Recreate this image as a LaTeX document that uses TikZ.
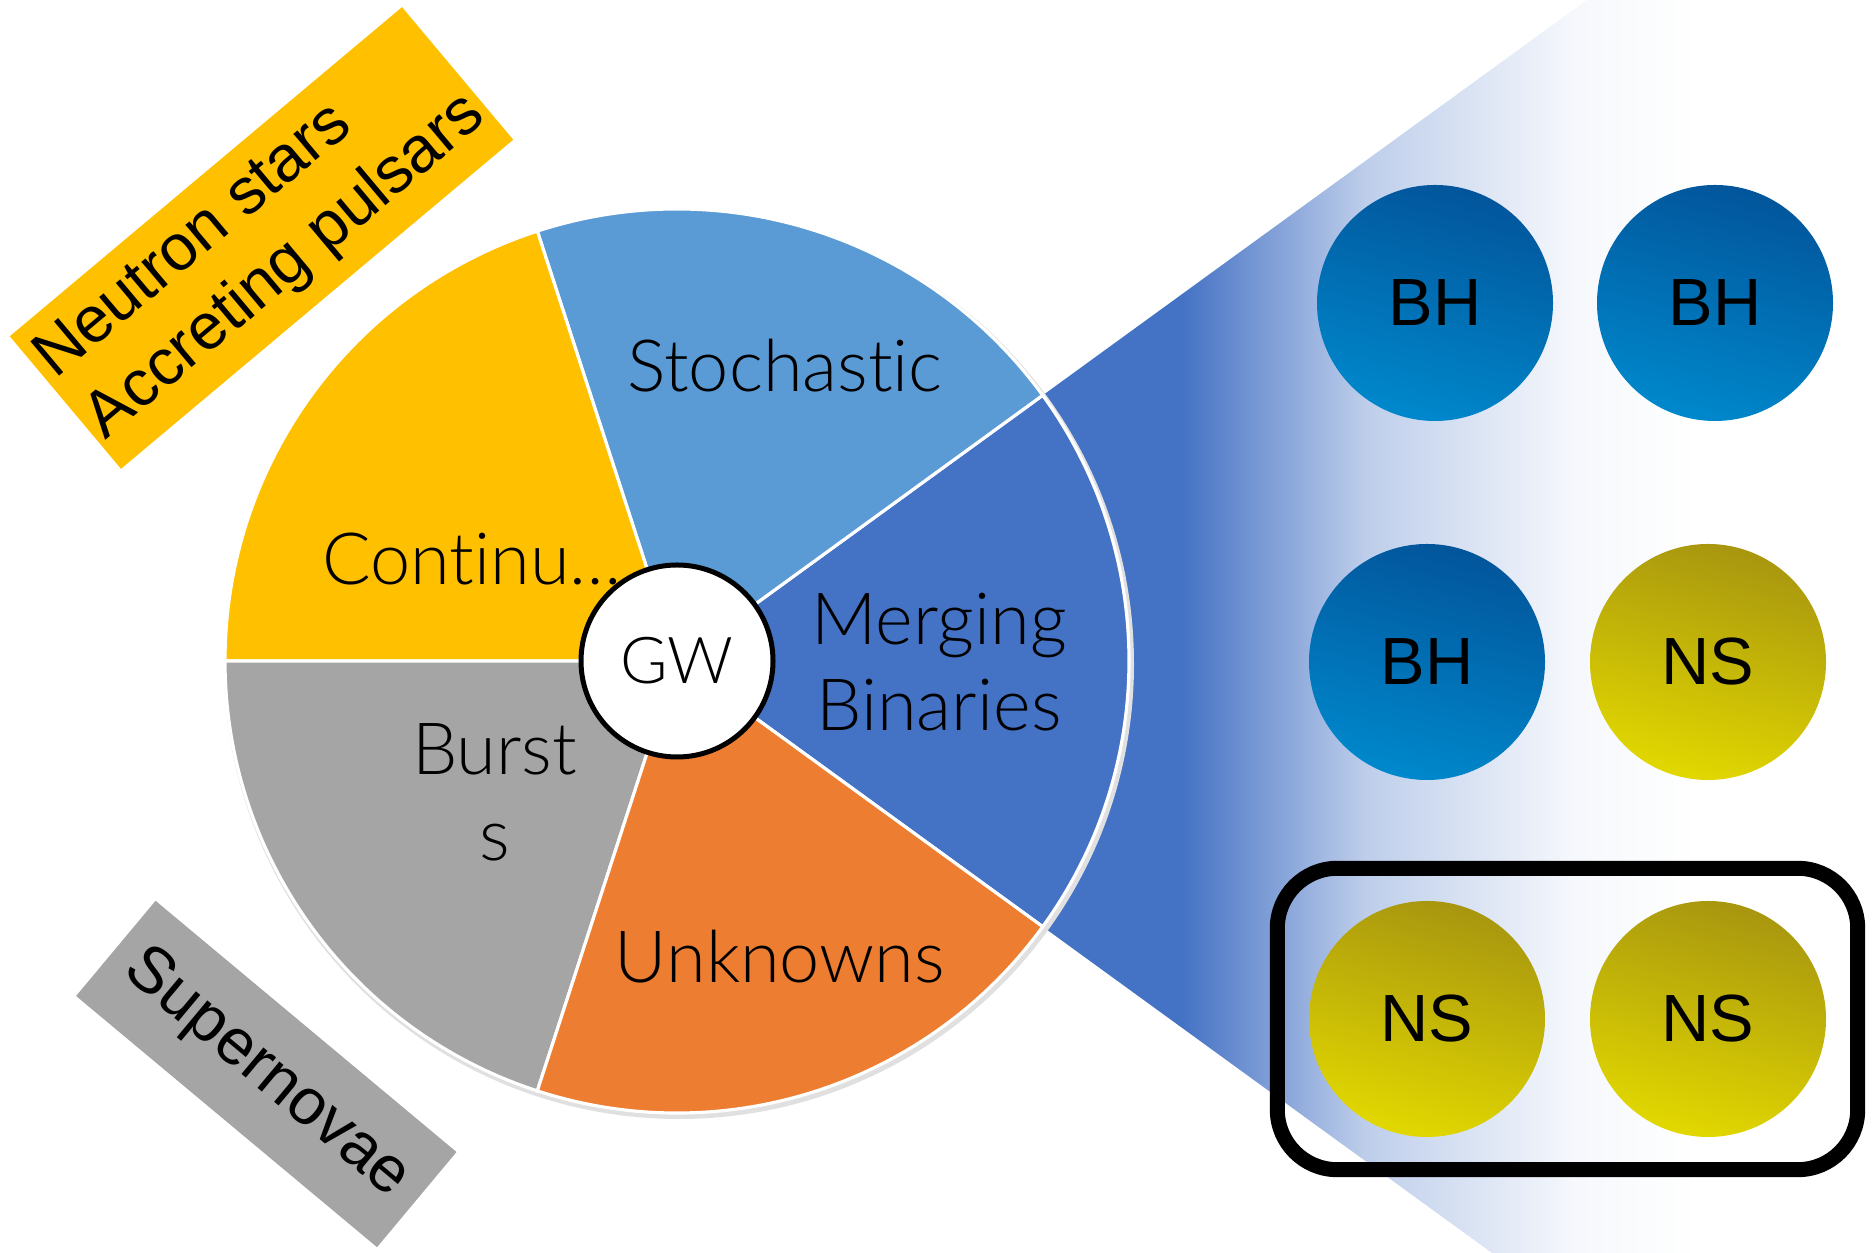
\documentclass[tikz,border=0pt]{standalone}
\usepackage{fontspec}
\setmainfont{Liberation Sans}
\newfontfamily\pielight{Lato Light}[Ligatures=NoCommon]
\usetikzlibrary{fit}
\definecolor{mergeblue}{HTML}{4472C4}
\definecolor{stochblue}{HTML}{5B9BD5}
\definecolor{contgold}{HTML}{FFC000}
\definecolor{burstgray}{HTML}{A5A5A5}
\definecolor{unkorange}{HTML}{ED7D31}
\definecolor{bhtop}{HTML}{02559B}
\definecolor{bhbot}{HTML}{0088CC}
\definecolor{nstop}{HTML}{A8960F}
\definecolor{nsbot}{HTML}{E2D800}
\begin{document}
\begin{tikzpicture}[
  wedgeline/.style={draw=white, line width=0.9pt},
  pielabel/.style={font=\pielight\fontsize{20.5}{24.4}\selectfont, inner sep=0pt},
  banner/.style={inner sep=0pt, font=\fontsize{18.5}{22.5}\selectfont},
  ball/.style={circle, minimum size=2.36cm, inner sep=0pt, font=\fontsize{19}{22}\selectfont},
  bhball/.style={ball, top color=bhtop, bottom color=bhbot, shading angle=-15},
  nsball/.style={ball, top color=nstop, bottom color=nsbot, shading angle=-15}]
\useasboundingbox (0,0) rectangle (18.73,12.53);
\coordinate (pie) at (6.77,5.92);

\begin{scope}
\clip (pie) -- (15.87,12.53) -- (18.73,12.53) -- (18.73,0) -- (14.92,0) -- cycle;
\fill[mergeblue] (6.77,0) rectangle (11.81,12.53);
\shade[left color=mergeblue, right color=mergeblue!35] (11.81,0) rectangle (13.65,12.53);
\shade[left color=mergeblue!35, right color=mergeblue!5] (13.65,0) rectangle (15.75,12.53);
\shade[left color=mergeblue!5, right color=white] (15.75,0) rectangle (17.0,12.53);
\end{scope}

\fill[black!12] (6.79,5.89) circle (4.55);
\foreach \a/\col in {-36/mergeblue, 36/stochblue, 108/contgold, 180/burstgray, 252/unkorange}
  \filldraw[fill=\col, wedgeline] (pie) -- ++(\a:4.52) arc[start angle=\a, delta angle=72, radius=4.52] -- cycle;

\node[pielabel, anchor=base] (stoch) at (7.85,8.61) {Stochastic};
\node[pielabel, anchor=base] (cont) at (4.72,6.68) {Continu…};
\node[pielabel, anchor=base] (unk) at (7.80,2.70) {Unknowns};
\node[pielabel, align=center] (merge) at (9.39,5.91) {Merging\\Binaries};
\node[pielabel, align=center] (burst) at (4.945,4.61) {Burst\\s};
\node[circle, draw, fill=white, line width=0.5mm, minimum size=1.92cm, inner sep=0pt,
  font=\pielight\fontsize{18.4}{22}\selectfont] (gw) at (pie) {GW};

\node[banner, fill=contgold, rotate=40, minimum width=5.12cm, minimum height=1.73cm,
  align=left] (nsbanner) at (2.615,10.15) {Neutron stars\\Accreting pulsars};
\node[banner, fill=burstgray, rotate=-39.85, minimum width=3.92cm, minimum height=1.24cm]
  (snbanner) at (2.663,1.79) {Supernovae};

\node[bhball] (bh1) at (14.35,9.50) {BH};
\node[bhball] (bh2) at (17.15,9.50) {BH};
\node[bhball] (bh3) at (14.27,5.91) {BH};
\node[nsball] (ns1) at (17.08,5.91) {NS};
\node[nsball] (ns2) at (14.27,2.34) {NS};
\node[nsball] (ns3) at (17.08,2.34) {NS};
\node[draw, line width=0.15cm, rounded corners=0.6cm, inner xsep=0.31cm, inner ysep=0.32cm,
  fit=(ns2)(ns3)] (pairbox) {};
\end{tikzpicture}
\end{document}
